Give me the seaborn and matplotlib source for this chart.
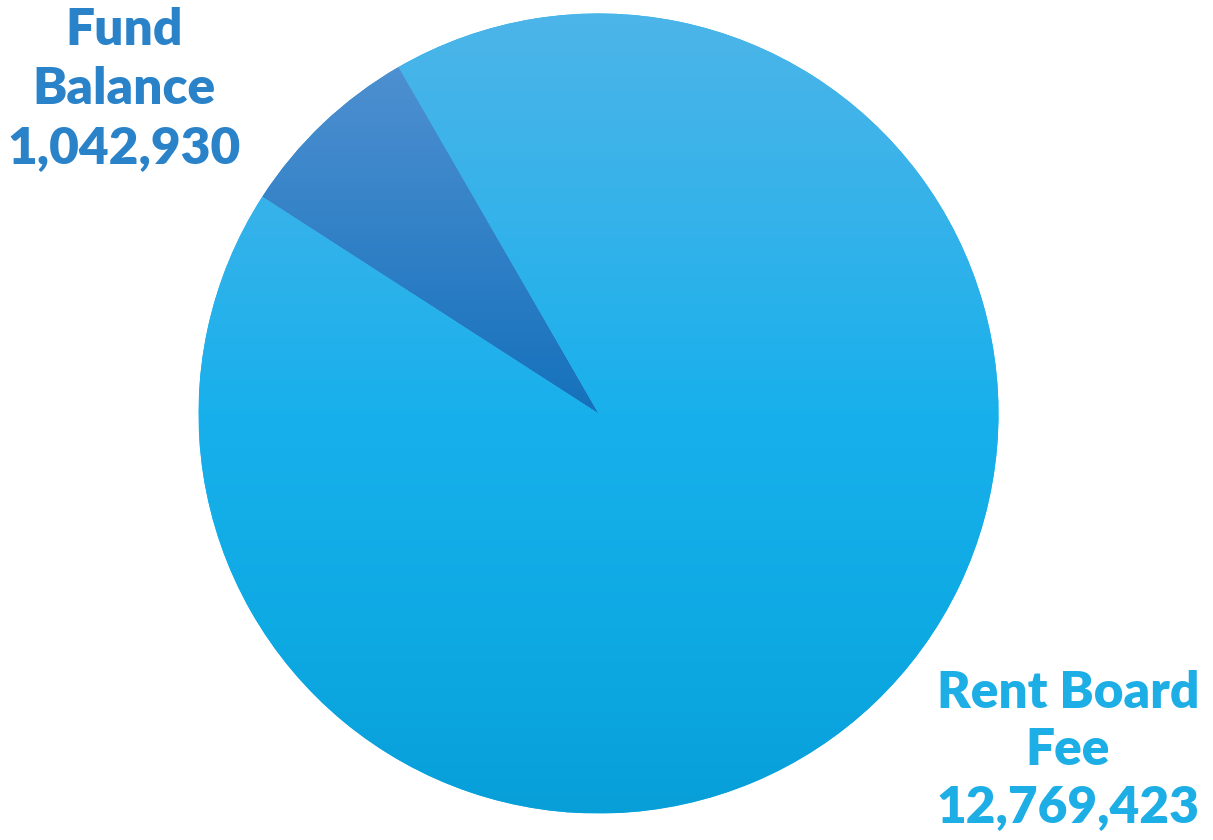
import numpy as np
import matplotlib
matplotlib.use("Agg")
import matplotlib.pyplot as plt
from matplotlib.colors import LinearSegmentedColormap
import seaborn as sns

# Data
categories = ["Fund Balance", "Rent Board Fee"]
amounts = [1042930, 12769423]
label_colors = ["#2a82c8", "#1eaee6"]
fund_stops = [(0.0, "#4e90d1"), (1.0, "#1571bc")]
rent_stops = [(0.0, "#4cb5e8"), (0.27, "#33b2ea"), (0.5, "#18b0ec"),
              (0.77, "#0eaae4"), (1.0, "#089fd9")]

sns.set_theme(style="white")
plt.rcParams["font.family"] = ["Lato", "DejaVu Sans"]

fig = plt.figure(figsize=(12.13, 8.40), dpi=100)
ax = fig.add_axes([0, 0, 1, 1])

cx, cy, r = 598.5, 426.5, 400
wedges, _ = ax.pie(amounts, center=(cx, cy), radius=r, startangle=120,
                   counterclock=True, colors=["#1e80c6", "#18b0ec"],
                   wedgeprops=dict(linewidth=0))

# vertical gradient fill clipped to each wedge
grad = np.linspace(0, 1, 512).reshape(-1, 1)
for w, stops, y_span in zip(wedges, [fund_stops, rent_stops],
                            [(cy, cy + r * np.sin(np.deg2rad(120))), (cy - r, cy + r)]):
    cmap = LinearSegmentedColormap.from_list("g", stops)
    im = ax.imshow(grad, cmap=cmap, aspect="auto", origin="upper",
                   extent=[cx - r, cx + r, y_span[0], y_span[1]], zorder=2)
    im.set_clip_path(w)

ax.set_xlim(0, 1213)
ax.set_ylim(0, 840)
ax.set_aspect("equal")
ax.axis("off")

def fmt(v):
    return f"{v:,}"

ax.text(124, 840 - 89, f"Fund\nBalance\n{fmt(amounts[0])}", ha="center", va="center",
        fontsize=37, fontweight="heavy", color=label_colors[0], linespacing=1.33, zorder=3)
ax.text(1068, 840 - 750, f"Rent Board\nFee\n{fmt(amounts[1])}", ha="center", va="center",
        fontsize=37, fontweight="heavy", color=label_colors[1], linespacing=1.3, zorder=3)

fig.savefig("out.png", dpi=100)
